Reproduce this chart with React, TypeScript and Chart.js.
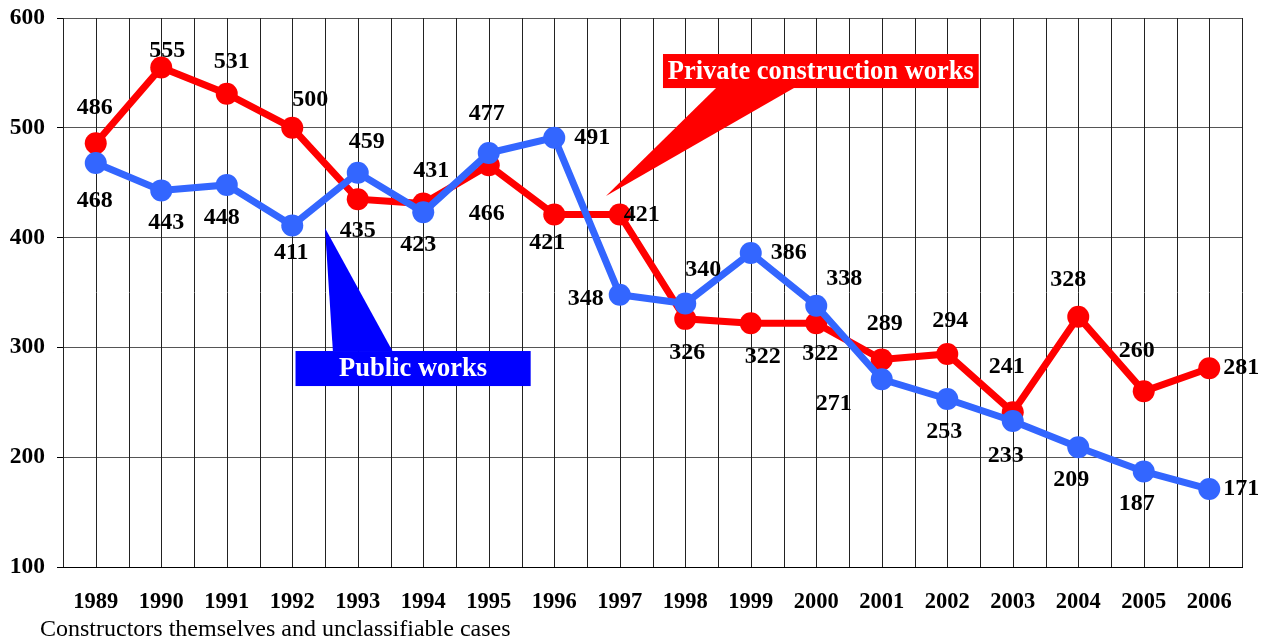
import React, { useEffect, useRef } from 'react';
import { Chart, registerables } from 'chart.js';

Chart.register(...registerables);

const years = ['1989', '1990', '1991', '1992', '1993', '1994', '1995', '1996', '1997', '1998', '1999', '2000', '2001', '2002', '2003', '2004', '2005', '2006'];
const privateWorks = [486, 555, 531, 500, 435, 431, 466, 421, 421, 326, 322, 322, 289, 294, 241, 328, 260, 281];
const publicWorks = [468, 443, 448, 411, 459, 423, 477, 491, 348, 340, 386, 338, 271, 253, 233, 209, 187, 171];
const yMin = 100;
const yMax = 600;
const yStep = 100;
const privateLabel = 'Private construction works';
const publicLabel = 'Public works';
const footnote = 'Constructors themselves and unclassifiable cases';

// label offsets (pixels) relative to each point
const privateDx = [-1, 6, 5, 18, 0, 8, -2, -7, 22, 2, 12, 4, 3, 3, -6, -10, -7, 32];
const privateDy = [-35, -17, -32, -28, 32, -33, 49, 28, 0, 34, 34, 31, -36, -33, -45, -37, -41, 0];
const publicDx = [-1, 5, -5, -1, 9, -5, -2, 38, -34, 18, 38, 28, -48, -3, -7, -7, -7, 32];
const publicDy = [38, 32, 33, 27, -31, 32, -39, 0, 4, -34, 0, -27, 25, 33, 35, 32, 32, 0];

const SERIF = "'Liberation Serif', 'Times New Roman', serif";
const RED = '#ff0000';
const BLUE = '#3366ff';

const verticalGrid = {
  id: 'verticalGrid',
  beforeDatasetsDraw(chart: any) {
    const { ctx, chartArea } = chart;
    const n = years.length;
    const step = (chartArea.right - chartArea.left) / (2 * n);
    ctx.save();
    ctx.strokeStyle = '#222';
    ctx.lineWidth = 1;
    for (let i = 0; i <= 2 * n; i++) {
      const x = Math.round(chartArea.left + i * step) + 0.5;
      ctx.beginPath();
      ctx.moveTo(x, chartArea.top);
      ctx.lineTo(x, chartArea.bottom);
      ctx.stroke();
    }
    ctx.restore();
  },
};

function drawCallout(chart: any, box: number[], tri: number[], color: string, text: string) {
  const { ctx } = chart;
  const xs = chart.scales.x;
  const ys = chart.scales.y;
  const X = (v: number) => xs.getPixelForValue(v);
  const Y = (v: number) => ys.getPixelForValue(v);
  const [bx0, bx1, by0, by1] = box;
  const [tx, ty, b0, b1, bv] = tri;
  ctx.save();
  ctx.fillStyle = color;
  ctx.beginPath();
  ctx.moveTo(X(tx), Y(ty));
  ctx.lineTo(X(b0), Y(bv));
  ctx.lineTo(X(b1), Y(bv));
  ctx.closePath();
  ctx.fill();
  const x0 = X(bx0), x1 = X(bx1), y0 = Y(by0), y1 = Y(by1);
  ctx.fillRect(x0, y0, x1 - x0, y1 - y0);
  ctx.fillStyle = '#ffffff';
  ctx.font = `bold 26.5px ${SERIF}`;
  ctx.textAlign = 'center';
  ctx.textBaseline = 'middle';
  ctx.fillText(text, (x0 + x1) / 2, (y0 + y1) / 2 + 1);
  ctx.restore();
}

const annotations = {
  id: 'annotations',
  afterDatasetsDraw(chart: any) {
    const { ctx } = chart;
    drawCallout(chart, [8.66, 13.48, 567.2, 536.2], [7.79, 437.9, 9.47, 10.66, 536.2], RED, privateLabel);
    drawCallout(chart, [3.05, 6.64, 296.7, 264.8], [3.5, 408.7, 3.62, 4.53, 296.7], '#0000ff', publicLabel);

    ctx.save();
    ctx.font = `bold 24px ${SERIF}`;
    ctx.fillStyle = '#000';
    ctx.textAlign = 'center';
    ctx.textBaseline = 'middle';
    const sets = [
      { idx: 1, values: privateWorks, dx: privateDx, dy: privateDy },
      { idx: 0, values: publicWorks, dx: publicDx, dy: publicDy },
    ];
    sets.forEach((s) => {
      const meta = chart.getDatasetMeta(s.idx);
      meta.data.forEach((pt: any, i: number) => {
        ctx.fillText(String(s.values[i]), pt.x + s.dx[i], pt.y + s.dy[i]);
      });
    });

    ctx.font = `24px ${SERIF}`;
    ctx.textAlign = 'left';
    ctx.fillText(footnote, 40, 630);
    ctx.restore();
  },
};

export default function App() {
  const ref = useRef<HTMLCanvasElement | null>(null);
  useEffect(() => {
    document.body.style.margin = '0';
    const canvas = ref.current;
    if (!canvas) return;
    const chart = new Chart(canvas, {
      type: 'line',
      data: {
        labels: years,
        datasets: [
          {
            label: publicLabel,
            data: publicWorks,
            borderColor: BLUE,
            backgroundColor: BLUE,
            borderWidth: 7,
            pointRadius: 11,
            pointHoverRadius: 11,
            pointBorderWidth: 0,
            pointBackgroundColor: BLUE,
            tension: 0,
          },
          {
            label: privateLabel,
            data: privateWorks,
            borderColor: RED,
            backgroundColor: RED,
            borderWidth: 7,
            pointRadius: 11,
            pointHoverRadius: 11,
            pointBorderWidth: 0,
            pointBackgroundColor: RED,
            tension: 0,
          },
        ],
      },
      options: {
        responsive: false,
        animation: false,
        devicePixelRatio: 1,
        layout: { padding: { top: 18, right: 30, left: 0, bottom: 0 } },
        plugins: {
          legend: { display: false },
          tooltip: { enabled: false },
        },
        scales: {
          x: {
            offset: true,
            grid: { display: false, drawTicks: false },
            border: { display: true, color: '#000', width: 1 },
            ticks: {
              color: '#000',
              font: { family: SERIF, size: 22.5, weight: 'bold' },
              padding: 22,
              maxRotation: 0,
              autoSkip: false,
            },
            afterFit(scale: any) {
              scale.height = 74;
              scale.paddingLeft = 0;
              scale.paddingRight = 0;
            },
          },
          y: {
            min: yMin,
            max: yMax,
            grid: { color: '#555', lineWidth: 1, tickLength: 6, tickColor: '#000' },
            border: { display: true, color: '#000', width: 1 },
            ticks: {
              stepSize: yStep,
              color: '#000',
              padding: 12,
              font: { family: SERIF, size: 23.5, weight: 'bold' },
            },
            afterFit(scale: any) {
              scale.width = 63;
              scale.paddingTop = 0;
              scale.paddingBottom = 0;
            },
          },
        },
      },
      plugins: [verticalGrid, annotations],
    });
    return () => chart.destroy();
  }, []);
  return (
    <div style={{ width: 1272, height: 641, background: '#fff' }}>
      <canvas ref={ref} width={1272} height={641} style={{ display: 'block' }} />
    </div>
  );
}
